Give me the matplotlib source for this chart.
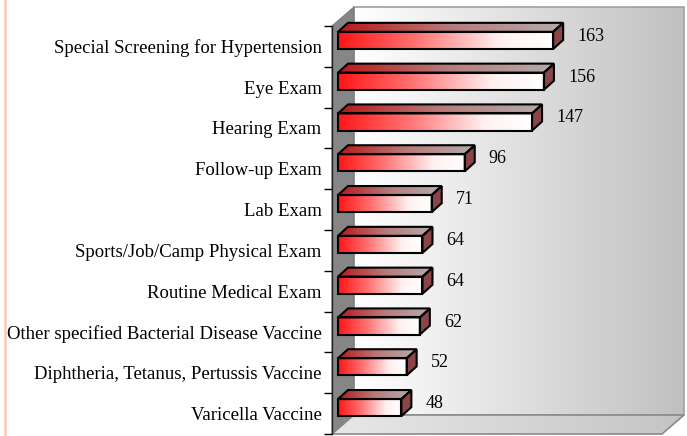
import matplotlib
matplotlib.use('Agg')
import matplotlib.pyplot as plt
import numpy as np
from matplotlib.transforms import IdentityTransform
from matplotlib.patches import Polygon
from matplotlib.colors import LinearSegmentedColormap
from matplotlib.lines import Line2D

categories = [
    "Special Screening for Hypertension",
    "Eye Exam",
    "Hearing Exam",
    "Follow-up Exam",
    "Lab Exam",
    "Sports/Job/Camp Physical Exam",
    "Routine Medical Exam",
    "Other specified Bacterial Disease Vaccine",
    "Diphtheria, Tetanus, Pertussis Vaccine",
    "Varicella Vaccine",
]
values = [163, 156, 147, 96, 71, 64, 64, 62, 52, 48]
x_max = 250

W, H = 687, 436
plt.rcParams['font.family'] = ['Liberation Serif', 'DejaVu Serif']
fig = plt.figure(figsize=(W / 100, H / 100), dpi=100)
fig.patch.set_facecolor('white')
ax = fig.add_axes([332 / W, 2 / H, 330 / W, 408 / H])
n = len(categories)
ax.set_xlim(0, x_max)
ax.set_ylim(n - 0.5, -0.5)
ax.patch.set_visible(False)
for s in ['top', 'right', 'bottom']:
    ax.spines[s].set_visible(False)
ax.spines['left'].set_color('#202020')
ax.spines['left'].set_linewidth(1.0)
ax.spines['left'].set_zorder(3)
ax.set_xticks([])
ax.set_yticks(range(n))
ax.set_yticklabels(categories, fontsize=13.5)
ax.set_yticks(np.arange(-0.5, n, 1.0), minor=True)
ax.tick_params(axis='y', which='major', length=0, pad=7.5)
ax.tick_params(axis='y', which='minor', length=5.5, width=1.0, color='black', direction='out')

idt = IdentityTransform()


def D(x, y):
    return ax.transData.transform((x, y))


def grad_poly(pts, cmap, zorder):
    pts = np.asarray(pts, dtype=float)
    poly = Polygon(pts, closed=True, transform=idt)
    g = np.linspace(0, 1, 256).reshape(1, -1)
    im = ax.imshow(g, cmap=cmap, extent=(pts[:, 0].min(), pts[:, 0].max(),
                                         pts[:, 1].min(), pts[:, 1].max()),
                   transform=idt, aspect='auto', interpolation='bilinear',
                   zorder=zorder, origin='lower')
    im.set_clip_box(fig.bbox)
    im.set_clip_path(poly)
    return im


def outline(pts, color, lw, zorder, fill=None):
    p = Polygon(pts, closed=True, transform=idt, facecolor=fill if fill else 'none',
                edgecolor=color, linewidth=lw, zorder=zorder, clip_on=False,
                joinstyle='miter')
    ax.add_patch(p)
    return p


# --- 3D walls ---
DX, DY = 22, 19
x0, y0 = D(0, n - 0.5)
x1, y1 = D(x_max, -0.5)

wall_cmap = LinearSegmentedColormap.from_list('wall', ['#ffffff', '#c0c0c0'])
floor_cmap = LinearSegmentedColormap.from_list('floor', ['#e8e8e8', '#c4c4c4'])

back = [(x0 + DX, y0 + DY), (x1 + DX, y0 + DY), (x1 + DX, y1 + DY), (x0 + DX, y1 + DY)]
grad_poly(back, wall_cmap, 0.5)
outline(back, '#a0a0a0', 1.2, 0.55)

side = [(x0, y0), (x0 + DX, y0 + DY), (x0 + DX, y1 + DY), (x0, y1)]
outline(side, '#7a7a7a', 0.8, 0.6, fill='#868686')

floor = [(x0, y0), (x1, y0), (x1 + DX, y0 + DY), (x0 + DX, y0 + DY)]
grad_poly(floor, floor_cmap, 0.7)
outline(floor, '#8a8a8a', 1.2, 0.75)

# --- bars ---
front_cmap = LinearSegmentedColormap.from_list(
    'front', [(0.0, '#ff1515'), (0.35, '#ff7070'), (0.75, '#fff0f0'), (1.0, '#ffffff')])
top_cmap = LinearSegmentedColormap.from_list(
    'top', [(0.0, '#b81818'), (0.5, '#b87a7a'), (1.0, '#b4acac')])

bh = 0.42
fdx, fdy = 6, 6
bdx, bdy = 16, 15
for i, v in enumerate(values):
    xl = D(0, i)[0]
    xr = D(v, i)[0]
    yt = D(0, i - bh / 2)[1]
    yb = D(0, i + bh / 2)[1]
    front = [(xl + fdx, yb + fdy), (xr + fdx, yb + fdy), (xr + fdx, yt + fdy), (xl + fdx, yt + fdy)]
    top = [(xl + fdx, yt + fdy), (xr + fdx, yt + fdy), (xr + bdx, yt + bdy), (xl + bdx, yt + bdy)]
    end = [(xr + fdx, yb + fdy), (xr + bdx, yb + bdy), (xr + bdx, yt + bdy), (xr + fdx, yt + fdy)]
    grad_poly(front, front_cmap, 2)
    grad_poly(top, top_cmap, 2)
    outline(end, 'black', 1.5, 2.2, fill='#8a4646')
    outline(top, 'black', 1.5, 2.3)
    outline(front, 'black', 1.5, 2.4)
    ax.annotate(str(v), xy=(v, i), xytext=(30, 5.5), textcoords='offset pixels',
                ha='left', va='baseline', fontsize=13, color='black', zorder=5,
                annotation_clip=False)

# pink left border line
fig.add_artist(Line2D([5 / W, 5 / W], [0, 1], transform=fig.transFigure,
                      color='#ffc6b6', linewidth=1.8))

fig.savefig('out.png', dpi=100)
